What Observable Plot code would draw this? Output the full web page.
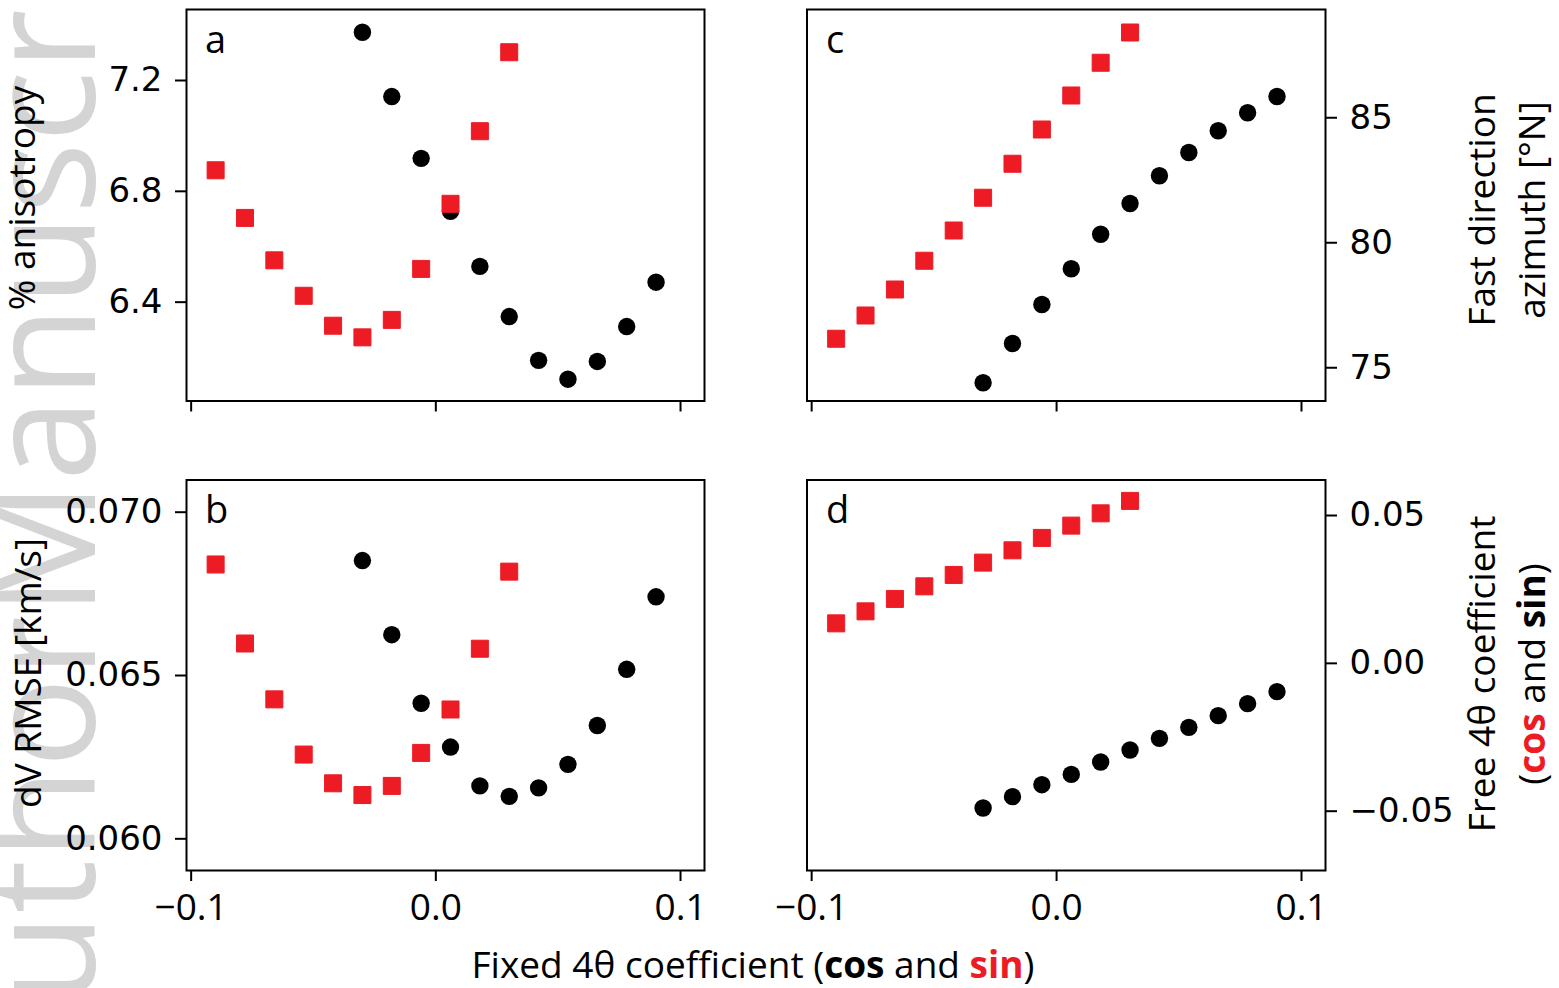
<!DOCTYPE html>
<html>
<head>
<meta charset="utf-8">
<script src="https://cdn.jsdelivr.net/npm/d3@7"></script>
<script src="https://cdn.jsdelivr.net/npm/@observablehq/plot@0.6"></script>
<style>
  html, body { margin: 0; padding: 0; background: #fff; }
  #fig { position: relative; width: 1559px; height: 988px; overflow: hidden; background: #fff; }
  #fig svg { position: absolute; left: 0; top: 0; }
</style>
</head>
<body>
<div id="fig"></div>
<script>
// Fixed 4θ coefficient values (x) for the two experiments
const fixedCosX = [-0.030, -0.018, -0.006, 0.006, 0.018, 0.030, 0.042, 0.054, 0.066, 0.078, 0.090];
const fixedSinX = [-0.090, -0.078, -0.066, -0.054, -0.042, -0.030, -0.018, -0.006, 0.006, 0.018, 0.030];

// (a) % anisotropy
const anisoCos = [7.374, 7.142, 6.919, 6.728, 6.529, 6.348, 6.190, 6.122, 6.186, 6.312, 6.472];
const anisoSin = [6.876, 6.704, 6.551, 6.423, 6.315, 6.273, 6.336, 6.520, 6.755, 7.017, 7.302];
// (b) dV RMSE [km/s]
const rmseCos = [0.06852, 0.06625, 0.06415, 0.06281, 0.06162, 0.06130, 0.06156, 0.06228, 0.06347, 0.06519, 0.06741];
const rmseSin = [0.06840, 0.06598, 0.06427, 0.06258, 0.06170, 0.06134, 0.06162, 0.06263, 0.06396, 0.06582, 0.06818];
// (c) fast direction azimuth [°N]
const azCos = [74.40, 75.97, 77.53, 78.96, 80.34, 81.57, 82.68, 83.61, 84.48, 85.20, 85.85];
const azSin = [76.16, 77.09, 78.13, 79.28, 80.49, 81.80, 83.16, 84.53, 85.89, 87.20, 88.41];
// (d) free 4θ coefficient
const freeCos = [-0.04892, -0.04509, -0.04104, -0.03755, -0.03336, -0.02930, -0.02537, -0.02165, -0.01769, -0.01363, -0.00957];
const freeSin = [0.01353, 0.01759, 0.02179, 0.02605, 0.02990, 0.03407, 0.03823, 0.04242, 0.04658, 0.05074, 0.05494];

// Axis ticks
const xTicks = [-0.1, 0.0, 0.1];
const anisoTicks = [6.4, 6.8, 7.2];
const rmseTicks = [0.060, 0.065, 0.070];
const azTicks = [75, 80, 85];
const freeTicks = [-0.05, 0.00, 0.05];

const W = 1559, H = 988;
const RED = "#ed1c24";
const LABEL_FONT = "'Open Sans', 'Noto Sans', sans-serif";
const TICK_FONT = "'DejaVu Sans', sans-serif";
const xDomain = [-0.1019, 0.1098];

const fig = d3.select("#fig");

// Background watermark
const wm = fig.append("svg").attr("width", W).attr("height", H);
wm.append("text")
  .attr("transform", "translate(95,1100) rotate(-90)")
  .attr("font-family", LABEL_FONT)
  .attr("font-size", 150)
  .attr("fill", "#d4d4d4")
  .text("AuthorManuscript");

const pts = (xs, ys) => xs.map((x, i) => ({x, y: ys[i]}));

const panels = [
  {frame: [186, 704, 9, 400.5], yDomain: [6.0433, 7.4562], yTicks: anisoTicks, yFormat: d3.format(".1f"),
   anchor: "left", xLabels: false, cos: anisoCos, sin: anisoSin},
  {frame: [186, 704, 479.5, 870], yDomain: [0.05903, 0.070986], yTicks: rmseTicks, yFormat: d3.format(".3f"),
   anchor: "left", xLabels: true, cos: rmseCos, sin: rmseSin},
  {frame: [806.5, 1325, 9, 400.5], yDomain: [73.67, 89.33], yTicks: azTicks, yFormat: d3.format("d"),
   anchor: "right", xLabels: false, cos: azCos, sin: azSin},
  {frame: [806.5, 1325, 479.5, 870], yDomain: [-0.07006, 0.06201], yTicks: freeTicks, yFormat: d3.format(".2f"),
   anchor: "right", xLabels: true, cos: freeCos, sin: freeSin}
];

for (const p of panels) {
  const [L, R, T, B] = p.frame;
  const chart = Plot.plot({
    width: W,
    height: H,
    marginLeft: L,
    marginRight: W - R,
    marginTop: T,
    marginBottom: H - B,
    style: {background: "transparent", overflow: "visible", color: "black"},
    x: {domain: xDomain},
    y: {domain: p.yDomain},
    marks: [
      Plot.axisX({
        ticks: xTicks, tickSize: 11, tickPadding: 12, stroke: "black", strokeWidth: 2,
        tickFormat: p.xLabels ? d3.format(".1f") : () => "",
        label: null, fontFamily: LABEL_FONT, fontSize: 37
      }),
      Plot.axisY({
        anchor: p.anchor, ticks: p.yTicks, tickSize: 11, tickPadding: 13, stroke: "black", strokeWidth: 2,
        tickFormat: p.yFormat, label: null, fontFamily: TICK_FONT, fontSize: 34
      }),
      Plot.dot(pts(fixedCosX, p.cos), {x: "x", y: "y", r: 8.7, fill: "black"}),
      Plot.dot(pts(fixedSinX, p.sin), {
        x: "x", y: "y", r: 9.6, symbol: "square", fill: RED, stroke: RED, strokeWidth: 1, strokeLinejoin: "round"
      }),
      Plot.frame({stroke: "black", strokeWidth: 2})
    ]
  });
  fig.node().appendChild(chart);
}

// Panel letters, axis titles
const ov = fig.append("svg").attr("width", W).attr("height", H)
  .attr("font-family", LABEL_FONT).attr("fill", "black");

const letters = [["a", 205, 53], ["b", 205, 523], ["c", 826, 53], ["d", 826, 523]];
for (const [t, x, y] of letters) {
  ov.append("text").attr("x", x).attr("y", y).attr("font-size", 38).text(t);
}

function vlabel(x, y, parts) {
  const t = ov.append("text")
    .attr("transform", `translate(${x},${y}) rotate(-90)`)
    .attr("text-anchor", "middle")
    .attr("font-size", 37);
  for (const [s, opts] of parts) {
    const ts = t.append("tspan").text(s);
    if (opts && opts.bold) ts.attr("font-weight", "bold");
    if (opts && opts.fill) ts.attr("fill", opts.fill);
  }
}

vlabel(35, 198, [["% anisotropy"]]);
vlabel(41, 673, [["dV RMSE [km/s]"]]);
vlabel(1495, 210, [["Fast direction"]]);
vlabel(1545, 210, [["azimuth [°N]"]]);
vlabel(1495, 674, [["Free 4θ coefficient"]]);
vlabel(1545, 674, [["("], ["cos", {bold: true, fill: RED}], [" and "], ["sin", {bold: true}], [")"]]);

const xl = ov.append("text")
  .attr("x", 753).attr("y", 978)
  .attr("text-anchor", "middle")
  .attr("font-size", 37);
xl.append("tspan").text("Fixed 4θ coefficient (");
xl.append("tspan").attr("font-weight", "bold").text("cos");
xl.append("tspan").text(" and ");
xl.append("tspan").attr("font-weight", "bold").attr("fill", RED).text("sin");
xl.append("tspan").text(")");
</script>
</body>
</html>
